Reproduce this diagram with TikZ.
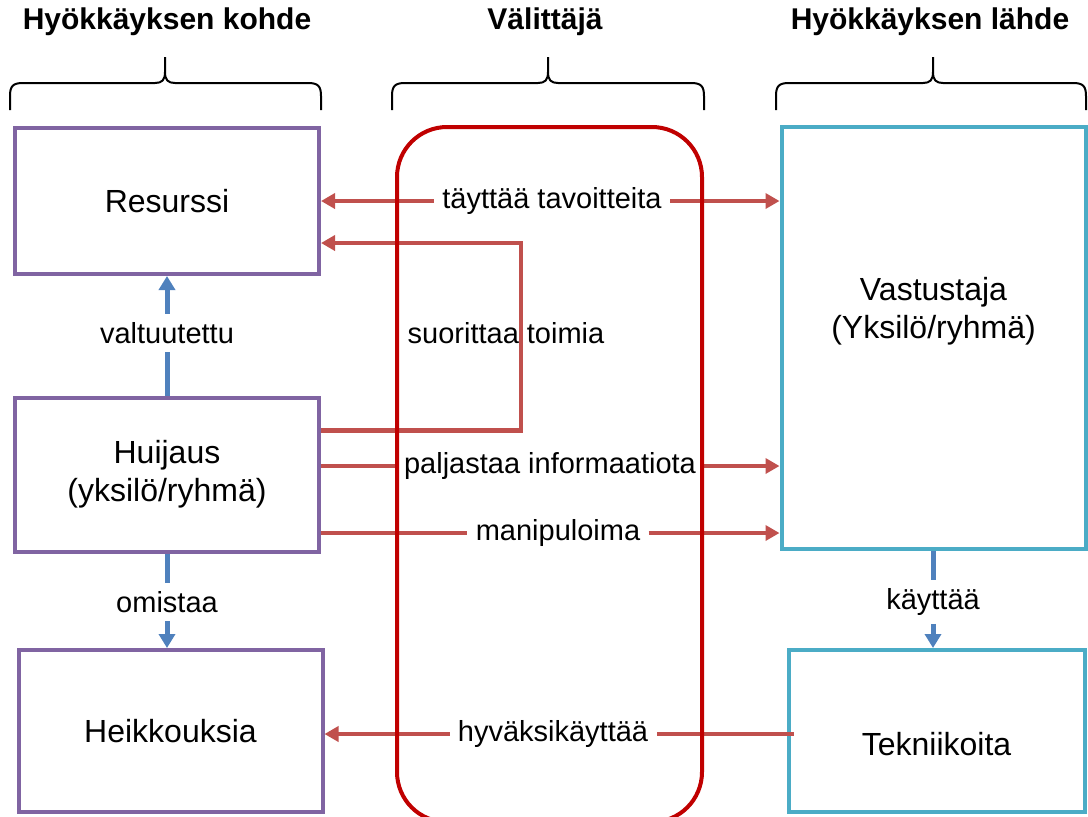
\documentclass[tikz,border=0pt]{standalone}
\usepackage{fontspec}
\setmainfont{Liberation Sans}
\usetikzlibrary{positioning,calc,arrows.meta}

\definecolor{kohdec}{HTML}{8064A2}
\definecolor{lahdec}{HTML}{4BACC6}
\definecolor{valitc}{HTML}{C00000}
\definecolor{punac}{HTML}{C0504D}
\definecolor{sinic}{HTML}{4F81BD}

\tikzset{
	laatikko/.style={draw, line width=2pt, align=center, font=\fontsize{16}{19}\selectfont},
	kohdebox/.style={laatikko, draw=kohdec},
	lahdebox/.style={laatikko, draw=lahdec},
	teksti/.style={font=\fontsize{14.5}{17}\selectfont, inner sep=4pt},
	otsikko/.style={font=\bfseries\fontsize{15}{18}\selectfont},
	punajana/.style={draw=punac, line width=2.25pt},
	punanuoli/.style={punajana, -{Triangle[length=7pt,width=7.5pt]}},
	sinijana/.style={draw=sinic, line width=2.5pt},
	sininuoli/.style={sinijana, -{Triangle[length=7pt,width=8pt]}}
}

\begin{document}
\begin{tikzpicture}[x=0.5pt, y=-0.5pt]
	\useasboundingbox (0,0) rectangle (1088,816);
	% otsikot ja aaltosulkeet
	\node[otsikko] (otsk) at (167,22) {Hyökkäyksen kohde};
	\node[otsikko] (otsv) at (545,22) {Välittäjä};
	\node[otsikko] (otsl) at (930,22) {Hyökkäyksen lähde};
	\foreach \l/\m/\r in {10/165/321, 392/548/704, 776/933/1086}{
		\draw[line width=1pt] (\l,110) -- (\l,96) .. controls (\l,86) and (\l+3,83) .. (\l+13,83) -- (\m-10,83)
			.. controls (\m-3,83) and (\m,80) .. (\m,72) -- (\m,57)
			(\m,72) .. controls (\m,80) and (\m+3,83) .. (\m+10,83) -- (\r-13,83)
			.. controls (\r-3,83) and (\r,86) .. (\r,96) -- (\r,110);
	}
	% laatikot
	\node[kohdebox, minimum width=152pt, minimum height=73pt] (res) at (167,201) {Resurssi};
	\node[kohdebox, minimum width=152pt, minimum height=77pt] (hui) at (167,474.5) {Huijaus\\(yksilö/ryhmä)};
	\node[kohdebox, minimum width=152pt, minimum height=81pt] (heik) at (170.5,731) {Heikkouksia};
	\node[lahdebox, minimum width=152pt, minimum height=211pt] (vast) at (933.5,338) {Vastustaja\\(Yksilö/ryhmä)\\[11pt]};
	\node[lahdebox, minimum width=148pt, minimum height=81pt] (tek) at (936.5,731) {\\[6pt]Tekniikoita};
	% sinisen nuolet
	\node[teksti] (valt) at (167,333) {valtuutettu};
	\node[teksti] (omis) at (167,602) {omistaa};
	\node[teksti] (kayt) at (933,602) {käyttää};
	\draw[sinijana] (hui.north -| valt) -- (valt.south);
	\draw[sininuoli] (valt.north) -- (valt.north |- res.south);
	\draw[sinijana] (hui.south -| omis) -- (omis.north);
	\draw[sininuoli] (omis.south) -- (omis.south |- heik.north);
	\draw[sinijana] (vast.south -| kayt) -- (kayt.north);
	\draw[sininuoli] (kayt.south) -- (kayt.south |- tek.north);
	% punaiset nuolet
	\node[teksti] (tayt) at (552,201) {täyttää tavoitteita};
	\node[teksti] (suor) at (506,333) {suorittaa toimia};
	\node[teksti] (palj) at (550,466) {paljastaa informaatiota};
	\node[teksti] (mani) at (558,533) {manipuloima};
	\node[teksti] (hyva) at (553,734) {hyväksikäyttää};
	\coordinate (kulma) at (521,243);
	\draw[punanuoli] (tayt.west) -- (tayt.west -| res.east);
	\draw[punanuoli] (tayt.east) -- (tayt.east -| vast.west);
	\draw[punanuoli] ([yshift=22pt]hui.east) -| (kulma) -- (kulma -| res.east);
	\draw[punajana] (hui.east |- palj) -- (palj.west);
	\draw[punanuoli] (palj.east) -- (palj.east -| vast.west);
	\draw[punajana] (hui.east |- mani) -- (mani.west);
	\draw[punanuoli] (mani.east) -- (mani.east -| vast.west);
	\draw[punajana] ([xshift=3.5pt]tek.west |- hyva) -- (hyva.east);
	\draw[punanuoli] (hyva.west) -- (hyva.west -| heik.east);
	% valittaja
	\node[draw=valitc, line width=2pt, rounded corners=25pt, minimum width=152.5pt, minimum height=347.5pt] (val) at (549.5,474.5) {};
\end{tikzpicture}
\end{document}
